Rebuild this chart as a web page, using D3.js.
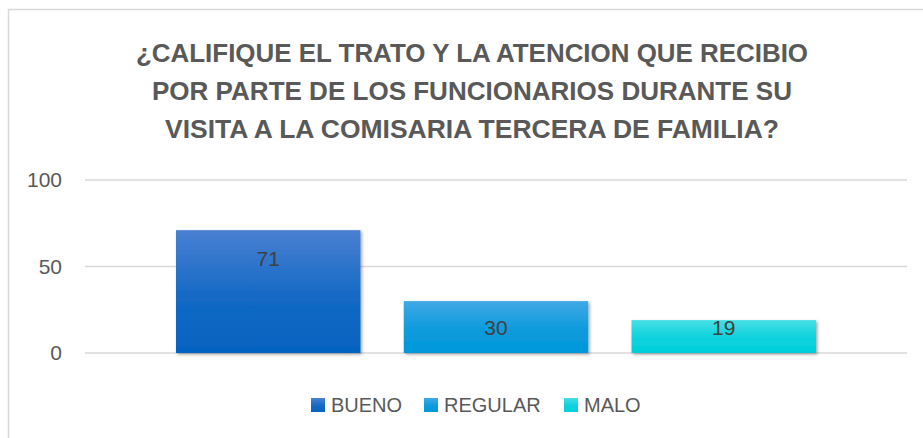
<!DOCTYPE html>
<html>
<head>
<meta charset="utf-8">
<script src="https://cdn.jsdelivr.net/npm/d3@7"></script>
<style>
  body { margin: 0; background: #fff; }
  text { font-family: "Liberation Sans", Arial, sans-serif; }
</style>
</head>
<body>
<div id="chart"></div>
<script>
var titulo = ["¿CALIFIQUE EL TRATO Y LA ATENCION QUE RECIBIO",
              "POR PARTE DE LOS FUNCIONARIOS DURANTE SU",
              "VISITA A LA COMISARIA TERCERA DE FAMILIA?"];
var series = ["BUENO", "REGULAR", "MALO"];
var valores = [71, 30, 19];
var ticks = [0, 50, 100];

var width = 923, height = 438;
var colores = [["#4a80d2", "#0563c1"], ["#41a9e6", "#0098da"], ["#44dfe4", "#00cfdb"]];

var svg = d3.select("#chart").append("svg")
  .attr("width", width)
  .attr("height", height);

var defs = svg.append("defs");
colores.forEach(function(c, i) {
  var g = defs.append("linearGradient").attr("id", "grad" + i)
    .attr("x1", 0).attr("y1", 0).attr("x2", 0).attr("y2", 1);
  g.append("stop").attr("offset", "0%").attr("stop-color", c[0]);
  g.append("stop").attr("offset", "55%").attr("stop-color", d3.interpolateRgb(c[0], c[1])(0.8));
  g.append("stop").attr("offset", "100%").attr("stop-color", c[1]);
});
var f = defs.append("filter").attr("id", "sombra")
  .attr("x", "-5%").attr("y", "-5%").attr("width", "115%").attr("height", "120%");
f.append("feDropShadow").attr("dx", 1.5).attr("dy", 1.5).attr("stdDeviation", 1.8)
  .attr("flood-color", "#000").attr("flood-opacity", 0.35);

// marco
svg.append("rect")
  .attr("x", 8.5).attr("y", 9.5)
  .attr("width", width + 20).attr("height", height + 20)
  .attr("fill", "none").attr("stroke", "#d9d9d9").attr("stroke-width", 1.5);

// titulo
var anchos = [672, 640, 614];
svg.selectAll(".titulo")
  .data(titulo)
  .enter()
  .append("text")
  .attr("class", "titulo")
  .attr("x", 472)
  .attr("y", function(d, i) { return 62 + i * 38; })
  .attr("text-anchor", "middle")
  .attr("textLength", function(d, i) { return anchos[i]; })
  .attr("lengthAdjust", "spacingAndGlyphs")
  .style("font-family", "'Liberation Sans Narrow', 'Liberation Sans', Arial, sans-serif")
  .style("font-weight", "bold")
  .style("font-size", "26.5px")
  .style("fill", "#595959")
  .text(function(d) { return d; });

var y = d3.scaleLinear().domain([0, 100]).range([353, 180]);
var x = d3.scaleBand().domain(series).range([176, 816]).paddingInner(0.19);

// rejilla
svg.selectAll(".grid")
  .data(ticks)
  .enter()
  .append("line")
  .attr("x1", 85).attr("x2", 907)
  .attr("y1", function(d) { return y(d); })
  .attr("y2", function(d) { return y(d); })
  .attr("stroke", "#d9d9d9")
  .attr("stroke-width", 1.3);

var eje = d3.axisLeft(y).tickValues(ticks).tickSize(0).tickPadding(0);
var gEje = svg.append("g").attr("transform", "translate(62,0)").call(eje);
gEje.select(".domain").remove();
gEje.selectAll("text")
  .style("font-family", "'Liberation Sans', Arial, sans-serif")
  .style("font-size", "21px")
  .attr("fill", "#595959");

// barras
svg.selectAll(".barra")
  .data(valores)
  .enter()
  .append("rect")
  .attr("x", function(d, i) { return x(series[i]); })
  .attr("y", function(d) { return y(d); })
  .attr("width", x.bandwidth())
  .attr("height", function(d) { return y(0) - y(d); })
  .attr("fill", function(d, i) { return "url(#grad" + i + ")"; })
  .attr("filter", "url(#sombra)");

svg.selectAll(".etiqueta")
  .data(valores)
  .enter()
  .append("text")
  .attr("x", function(d, i) { return x(series[i]) + x.bandwidth() / 2; })
  .attr("y", function(d) { return Math.min(y(d) + 28, y(0) - 26); })
  .attr("dy", "0.36em")
  .attr("text-anchor", "middle")
  .style("font-size", "21px")
  .style("fill", "#404040")
  .text(function(d) { return d; });

// leyenda
var posLeyenda = [311, 424, 564];
var ley = svg.selectAll(".ley")
  .data(series)
  .enter()
  .append("g")
  .attr("transform", function(d, i) { return "translate(" + posLeyenda[i] + ",398)"; });
ley.append("rect")
  .attr("width", 14).attr("height", 14)
  .attr("fill", function(d, i) { return "url(#grad" + i + ")"; });
ley.append("text")
  .attr("x", 20).attr("y", 14)
  .style("font-size", "20px")
  .style("fill", "#595959")
  .text(function(d) { return d; });
</script>
</body>
</html>
